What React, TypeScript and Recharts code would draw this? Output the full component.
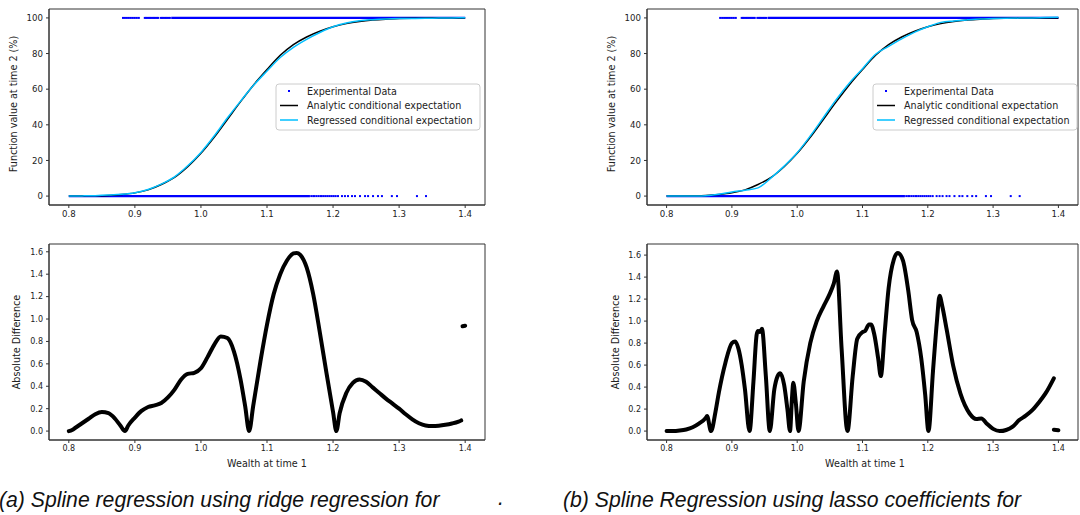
import { ComposedChart, Line, Scatter, XAxis, YAxis, ReferenceArea } from "recharts";

const FONT = "DejaVu Sans";

const wealthTicks = [0.8, 0.9, 1.0, 1.1, 1.2, 1.3, 1.4];
const valueTicks = [0, 20, 40, 60, 80, 100];
const diffTicks = [0, 0.2, 0.4, 0.6, 0.8, 1.0, 1.2, 1.4, 1.6];

// conditional expectation curves (%), sampled on curveX
const curveX = [0.8, 0.82, 0.84, 0.86, 0.88, 0.9, 0.92, 0.94, 0.96, 0.98, 1.0, 1.02, 1.04, 1.06, 1.08, 1.1, 1.12, 1.14, 1.16, 1.18, 1.2, 1.22, 1.24, 1.26, 1.28, 1.3, 1.32, 1.34, 1.36, 1.38, 1.4];
const analyticY = [0, 0.1, 0.2, 0.4, 0.9, 1.8, 3.5, 6.5, 10.5, 16.5, 24, 33, 43, 53, 62.5, 71, 79, 85, 89.3, 92.5, 95, 96.8, 98, 98.8, 99.3, 99.6, 99.8, 99.9, 100, 100, 100];
const ridgeY = [0, 0.1, 0.25, 0.55, 1.0, 1.9, 3.7, 6.7, 10.8, 17, 24.5, 33.7, 43.8, 53.3, 62.3, 70.2, 77.8, 83.5, 88, 91.8, 95, 97.1, 98.4, 99, 99.4, 99.6, 99.7, 99.8, 99.9, 100, 100.1];
const lassoY = [0, 0, 0.05, 0.2, 1.0, 2.3, 3.3, 4.6, 10.2, 16.8, 24.3, 33.7, 44, 54.3, 63.5, 71.5, 79.6, 84, 88.2, 92, 95, 97.5, 98.3, 98.9, 99.4, 99.6, 99.8, 99.9, 100, 100.2, 100.4];

// experimental data: dense runs plus the scattered points around them
const expHighRun = [0.955, 1.4];
const expHighSparse = [0.882, 0.885, 0.888, 0.891, 0.894, 0.897, 0.9, 0.903, 0.906, 0.915, 0.917, 0.919, 0.921, 0.923, 0.925, 0.927, 0.929, 0.931, 0.933, 0.935, 0.939, 0.941, 0.943, 0.945, 0.947, 0.949, 0.951, 0.953];
const expLowRun = [0.8, 1.165];
const expLowSparse = [1.167, 1.17, 1.172, 1.175, 1.178, 1.181, 1.183, 1.186, 1.189, 1.192, 1.195, 1.198, 1.201, 1.204, 1.2075, 1.2135, 1.218, 1.2226, 1.2287, 1.2332, 1.2408, 1.2484, 1.253, 1.2605, 1.268, 1.274, 1.289, 1.2968, 1.327, 1.3407];

// absolute difference between analytic and regressed expectation
const ridgeDiffX = [0.8, 0.805, 0.81, 0.82, 0.83, 0.84, 0.85, 0.86, 0.87, 0.878, 0.885, 0.89, 0.9, 0.91, 0.92, 0.93, 0.94, 0.95, 0.96, 0.97, 0.98, 0.99, 1.0, 1.01, 1.02, 1.03, 1.04, 1.05, 1.06, 1.067, 1.073, 1.079, 1.09, 1.1, 1.11, 1.12, 1.13, 1.14, 1.145, 1.15, 1.16, 1.17, 1.18, 1.19, 1.2, 1.205, 1.21, 1.22, 1.23, 1.24, 1.25, 1.26, 1.27, 1.28, 1.29, 1.3, 1.31, 1.32, 1.33, 1.34, 1.35, 1.36, 1.37, 1.38, 1.39, 1.394];
const ridgeDiffY = [0, 0.01, 0.03, 0.07, 0.11, 0.15, 0.17, 0.16, 0.11, 0.05, 0, 0.05, 0.12, 0.18, 0.215, 0.23, 0.25, 0.3, 0.37, 0.46, 0.51, 0.52, 0.56, 0.66, 0.77, 0.845, 0.83, 0.71, 0.46, 0.22, 0, 0.22, 0.62, 0.95, 1.22, 1.4, 1.52, 1.585, 1.59, 1.575, 1.46, 1.22, 0.88, 0.52, 0.17, 0, 0.16, 0.34, 0.43, 0.46, 0.44, 0.39, 0.34, 0.29, 0.245, 0.2, 0.15, 0.105, 0.07, 0.05, 0.045, 0.048, 0.056, 0.068, 0.085, 0.095];
const ridgeTailX = [1.396, 1.4];
const ridgeTailY = [0.935, 0.94];

const lassoDiffX = [0.8, 0.81, 0.82, 0.83, 0.84, 0.85, 0.86, 0.862, 0.868, 0.875, 0.88, 0.89, 0.9, 0.905, 0.91, 0.915, 0.92, 0.927, 0.933, 0.938, 0.94, 0.943, 0.946, 0.952, 0.958, 0.965, 0.97, 0.974, 0.98, 0.985, 0.989, 0.992, 0.994, 0.998, 1.002, 1.01, 1.02, 1.03, 1.04, 1.05, 1.056, 1.061, 1.068, 1.077, 1.085, 1.092, 1.1, 1.104, 1.11, 1.113, 1.118, 1.124, 1.128, 1.134, 1.14, 1.148, 1.154, 1.162, 1.17, 1.176, 1.183, 1.19, 1.196, 1.201, 1.208, 1.214, 1.218, 1.222, 1.229, 1.239, 1.25, 1.264, 1.274, 1.282, 1.29, 1.3, 1.31, 1.32, 1.33, 1.34, 1.35, 1.36, 1.37, 1.38, 1.393];
const lassoDiffY = [0, 0, 0.005, 0.015, 0.035, 0.07, 0.12, 0.137, 0, 0.18, 0.35, 0.62, 0.8, 0.815, 0.75, 0.6, 0.38, 0, 0.45, 0.88, 0.91, 0.9, 0.93, 0.5, 0, 0.38, 0.5, 0.527, 0.42, 0.2, 0, 0.3, 0.44, 0.25, 0, 0.45, 0.8, 1.0, 1.13, 1.25, 1.34, 1.45, 0.75, 0, 0.5, 0.84, 0.9, 0.91, 0.97, 0.97, 0.88, 0.66, 0.5, 0.9, 1.3, 1.56, 1.62, 1.55, 1.28, 1.01, 0.9, 0.66, 0.33, 0, 0.55, 1.0, 1.23, 1.14, 0.92, 0.59, 0.34, 0.16, 0.11, 0.115, 0.07, 0.02, 0, 0.01, 0.04, 0.1, 0.14, 0.19, 0.26, 0.34, 0.48];
const lassoTailX = [1.393, 1.4];
const lassoTailY = [0.012, 0.008];

const toPoints = (xs: number[], ys: number[]) => xs.map((x, i) => ({ x, y: ys[i] }));
const atLevel = (xs: number[], y: number) => xs.map((x) => ({ x, y }));

const X_DOMAIN: [number, number] = [0.77, 1.43];

const Dot = (props: { cx?: number; cy?: number }) =>
  props.cx == null || props.cy == null ? null : (
    <rect x={props.cx - 1} y={props.cy - 1} width={2} height={2} fill="#0000ff" />
  );

function FitPanel({ left, width, regressed }: { left: number; width: number; regressed: number[] }) {
  const yDomain: [number, number] = [-5, 105];
  return (
    <div style={{ position: "absolute", left, top: 0 }}>
      <ComposedChart width={width} height={230} margin={{ top: 9, right: left ? 2 : 5, bottom: 0, left: 0 }}>
        <XAxis
          type="number"
          dataKey="x"
          domain={X_DOMAIN}
          allowDataOverflow
          ticks={wealthTicks}
          tickFormatter={(v: number) => v.toFixed(1)}
          tick={{ fontSize: 8.6, fill: "#222", fontFamily: FONT }}
          tickSize={3}
          tickMargin={3}
          height={25}
          stroke="#333"
        />
        <YAxis
          type="number"
          dataKey="y"
          domain={yDomain}
          allowDataOverflow
          ticks={valueTicks}
          tick={{ fontSize: 8.6, fill: "#222", fontFamily: FONT }}
          tickSize={3}
          tickMargin={3}
          width={49}
          stroke="#333"
        />
        <ReferenceArea x1={X_DOMAIN[0]} x2={X_DOMAIN[1]} y1={yDomain[0]} y2={yDomain[1]} fill="none" stroke="#333" strokeWidth={1} />
        <Line data={atLevel(expHighRun, 100)} dataKey="y" stroke="#0000ff" strokeWidth={2.2} dot={false} isAnimationActive={false} />
        <Line data={atLevel(expLowRun, 0)} dataKey="y" stroke="#0000ff" strokeWidth={2.2} dot={false} isAnimationActive={false} />
        <Scatter data={atLevel(expHighSparse, 100)} dataKey="y" shape={Dot} isAnimationActive={false} />
        <Scatter data={atLevel(expLowSparse, 0)} dataKey="y" shape={Dot} isAnimationActive={false} />
        <Line data={toPoints(curveX, analyticY)} dataKey="y" type="monotone" stroke="#000" strokeWidth={1.5} dot={false} isAnimationActive={false} />
        <Line data={toPoints(curveX, regressed)} dataKey="y" type="monotone" stroke="#00bfff" strokeWidth={1.5} dot={false} isAnimationActive={false} />
      </ComposedChart>
    </div>
  );
}

function DiffPanel({ left, width, xs, ys, tailX, tailY }: { left: number; width: number; xs: number[]; ys: number[]; tailX: number[]; tailY: number[] }) {
  const top = Math.max(...ys, ...tailY);
  const yDomain: [number, number] = [-top * 0.05, top * 1.05];
  return (
    <div style={{ position: "absolute", left, top: 235 }}>
      <ComposedChart width={width} height={230} margin={{ top: 9, right: left ? 2 : 5, bottom: 0, left: 0 }}>
        <XAxis
          type="number"
          dataKey="x"
          domain={X_DOMAIN}
          allowDataOverflow
          ticks={wealthTicks}
          tickFormatter={(v: number) => v.toFixed(1)}
          tick={{ fontSize: 8, fill: "#222", fontFamily: FONT }}
          tickSize={3}
          tickMargin={2}
          height={25}
          stroke="#333"
        />
        <YAxis
          type="number"
          dataKey="y"
          domain={yDomain}
          allowDataOverflow
          ticks={diffTicks}
          tickFormatter={(v: number) => v.toFixed(1)}
          tick={{ fontSize: 8, fill: "#222", fontFamily: FONT }}
          tickSize={3}
          tickMargin={3}
          width={49}
          stroke="#333"
        />
        <ReferenceArea x1={X_DOMAIN[0]} x2={X_DOMAIN[1]} y1={yDomain[0]} y2={yDomain[1]} fill="none" stroke="#333" strokeWidth={1} />
        <Line data={toPoints(xs, ys)} dataKey="y" type="monotone" stroke="#000" strokeWidth={4} strokeLinejoin="round" strokeLinecap="round" dot={false} isAnimationActive={false} />
        <Line data={toPoints(tailX, tailY)} dataKey="y" stroke="#000" strokeWidth={4} strokeLinecap="round" dot={false} isAnimationActive={false} />
      </ComposedChart>
    </div>
  );
}

function LegendBox({ x, y }: { x: number; y: number }) {
  const text = { fontFamily: FONT, fontSize: 9.6, fill: "#222" };
  return (
    <g transform={`translate(${x},${y})`}>
      <rect x={0} y={0} width={204} height={46} rx={3} fill="rgba(255,255,255,0.85)" stroke="#ccc" strokeWidth={1} />
      <rect x={12} y={6} width={2} height={2} fill="#0000ff" />
      <text x={31} y={7} dominantBaseline="central" {...text}>Experimental Data</text>
      <line x1={4} x2={22} y1={21.5} y2={21.5} stroke="#000" strokeWidth={1.5} />
      <text x={31} y={21.5} dominantBaseline="central" {...text}>Analytic conditional expectation</text>
      <line x1={4} x2={22} y1={36} y2={36} stroke="#00bfff" strokeWidth={1.5} />
      <text x={31} y={36} dominantBaseline="central" {...text}>Regressed conditional expectation</text>
    </g>
  );
}

function Labels() {
  const label = { fontFamily: FONT, fontSize: 9.6, fill: "#222", textAnchor: "middle" as const };
  const caption = { fontFamily: "Liberation Sans", fontSize: 21.2, fontStyle: "italic", fill: "#111" };
  return (
    <svg width={1080} height={515} style={{ position: "absolute", left: 0, top: 0, pointerEvents: "none" }}>
      <text transform="translate(17,104) rotate(-90)" {...label}>Function value at time 2 (%)</text>
      <text transform="translate(615,104) rotate(-90)" {...label}>Function value at time 2 (%)</text>
      <text transform="translate(20,342) rotate(-90)" {...label}>Absolute Difference</text>
      <text transform="translate(619,342) rotate(-90)" {...label}>Absolute Difference</text>
      <text x={267} y={467} {...label}>Wealth at time 1</text>
      <text x={865} y={467} {...label}>Wealth at time 1</text>
      <LegendBox x={276} y={84} />
      <LegendBox x={873} y={84} />
      <text x={-1} y={507} {...caption}>(a) Spline regression using ridge regression for</text>
      <text x={498} y={505} {...caption}>.</text>
      <text x={563} y={507} {...caption}>(b) Spline Regression using lasso coefficients for</text>
    </svg>
  );
}

export default function App() {
  return (
    <div style={{ position: "absolute", left: 0, top: 0, width: 1080, height: 515, background: "#fff", overflow: "hidden" }}>
      <FitPanel left={0} width={490} regressed={ridgeY} />
      <FitPanel left={598} width={482} regressed={lassoY} />
      <DiffPanel left={0} width={490} xs={ridgeDiffX} ys={ridgeDiffY} tailX={ridgeTailX} tailY={ridgeTailY} />
      <DiffPanel left={598} width={482} xs={lassoDiffX} ys={lassoDiffY} tailX={lassoTailX} tailY={lassoTailY} />
      <Labels />
    </div>
  );
}
